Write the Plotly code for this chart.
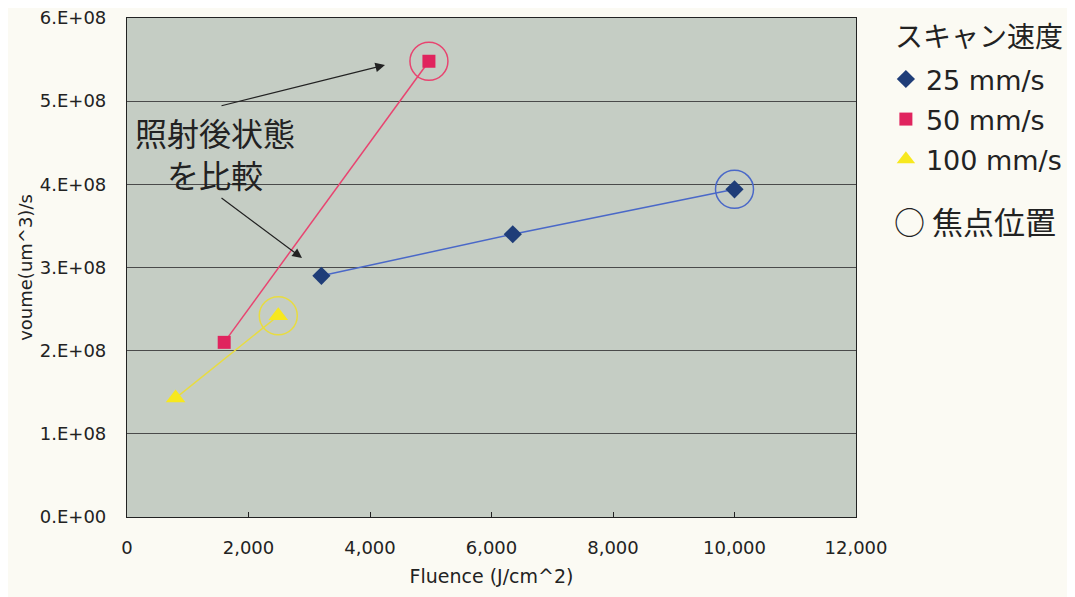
import plotly.graph_objects as go

# Data
fluence_25 = [3200, 6350, 10000]
volume_25 = [2.90e8, 3.40e8, 3.94e8]
fluence_50 = [1600, 4970]
volume_50 = [2.10e8, 5.48e8]
fluence_100 = [800, 2490]
volume_100 = [1.43e8, 2.42e8]

series_names = ["25 mm/s", "50 mm/s", "100 mm/s"]
focus_label = "○ 焦点位置"
legend_title = "スキャン速度"
note_text = "照射後状態<br>を比較"

y_tick_vals = [0, 1e8, 2e8, 3e8, 4e8, 5e8, 6e8]
y_tick_text = ["0.E+00", "1.E+08", "2.E+08", "3.E+08", "4.E+08", "5.E+08", "6.E+08"]
x_tick_vals = [0, 2000, 4000, 6000, 8000, 10000, 12000]
x_tick_text = ["0", "2,000", "4,000", "6,000", "8,000", "10,000", "12,000"]

FONT = "DejaVu Sans, sans-serif"
JFONT = "Noto Sans CJK JP, sans-serif"

fig = go.Figure()

series = [
    (fluence_25, volume_25, series_names[0], "diamond", 14, "#1f3d78", "#4a68c8"),
    (fluence_50, volume_50, series_names[1], "square", 13, "#e0245e", "#e84470"),
    (fluence_100, volume_100, series_names[2], "triangle-up", 17, "#f7e81e", "#e8dc40"),
]
for i, (xs, ys, name, sym, size, mcol, lcol) in enumerate(series):
    fig.add_trace(go.Scatter(x=xs, y=ys, mode="lines", line=dict(color=lcol, width=1.5),
                             showlegend=False, hoverinfo="skip", legendgroup=f"g{i}"))
    fig.add_trace(go.Scatter(x=xs, y=ys, mode="markers", name=name, legendgroup=f"g{i}",
                             marker=dict(symbol=sym, size=size, color=mcol,
                                         line=dict(width=0))))

# Focus circles around highest-fluence point of each series
for xs, ys, name, sym, size, mcol, lcol in series:
    fx, fy = xs[-1], ys[-1]
    fig.add_shape(type="circle", xref="x", yref="y", xsizemode="pixel", ysizemode="pixel",
                  xanchor=fx, yanchor=fy, x0=-19, x1=19, y0=-19, y1=19,
                  line=dict(color=lcol, width=1.5))

# Legend title
fig.add_annotation(xref="paper", yref="paper", x=1.051, y=0.966, xanchor="left",
                   yanchor="middle", text=legend_title, showarrow=False,
                   font=dict(family=JFONT, size=28, color="#222"))
# Focus legend entry (text glyph)
fig.add_annotation(xref="paper", yref="paper", x=1.050, y=0.595, xanchor="left",
                   yanchor="middle", text=focus_label, showarrow=False,
                   font=dict(family=JFONT, size=31, color="#222"))

# Note text and arrows
fig.add_annotation(x=1450, y=4.38e8, text=note_text, showarrow=False,
                   font=dict(family=JFONT, size=32, color="#222"), align="center")
fig.add_annotation(x=4247, y=5.435e8, ax=1531, ay=4.94e8, axref="x", ayref="y",
                   xref="x", yref="y", text="", showarrow=True, arrowhead=2,
                   arrowsize=1.6, arrowwidth=1.2, arrowcolor="#222")
fig.add_annotation(x=2881, y=3.114e8, ax=1531, ay=3.85e8, axref="x", ayref="y",
                   xref="x", yref="y", text="", showarrow=True, arrowhead=2,
                   arrowsize=1.6, arrowwidth=1.2, arrowcolor="#222")

fig.update_layout(
    width=1067, height=589,
    margin=dict(l=119, r=219, t=10, b=80, autoexpand=False),
    paper_bgcolor="#fbfaf3",
    plot_bgcolor="#c5cdc4",
    font=dict(family=FONT, color="#222"),
    legend=dict(x=1.041, y=0.926, xanchor="left", yanchor="top", tracegroupgap=2,
                font=dict(family=FONT, size=27), bgcolor="rgba(0,0,0,0)"),
    xaxis=dict(range=[0, 12000], tickvals=x_tick_vals, ticktext=x_tick_text,
               showgrid=False, zeroline=False, showline=True, linecolor="#222",
               linewidth=1.2, mirror=True, ticks="inside", ticklen=5, tickcolor="#222",
               tickfont=dict(size=18), ticklabelstandoff=14,
               title=dict(text="Fluence (J/cm^2)", font=dict(size=19), standoff=12)),
    yaxis=dict(range=[0, 6e8], tickvals=y_tick_vals, ticktext=y_tick_text,
               showgrid=True, gridcolor="#4a4a4a", gridwidth=1, zeroline=False,
               showline=True, linecolor="#222", linewidth=1.2, mirror=True,
               ticks="outside", ticklen=16, tickcolor="rgba(0,0,0,0)",
               tickfont=dict(size=18), ticklabeloverflow="allow",
               title=dict(text="voume(um^3)/s", font=dict(size=18), standoff=2)),
)

fig.write_html("out.html")
